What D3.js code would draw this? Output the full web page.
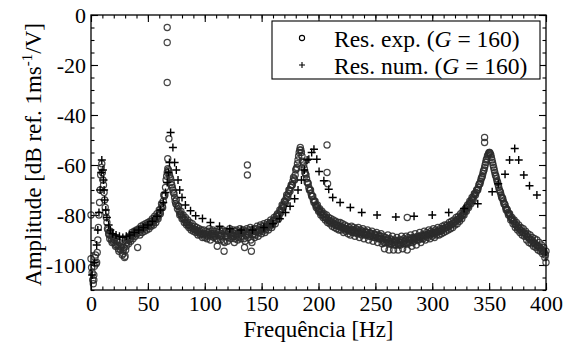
<!DOCTYPE html>
<html>
<head>
<meta charset="utf-8">
<script src="https://cdn.jsdelivr.net/npm/d3@7"></script>
<style>
  html, body { margin: 0; padding: 0; background: #fff; }
  svg { display: block; font-family: "Liberation Serif", "Times New Roman", serif; }
</style>
</head>
<body>
<svg id="chart" width="571" height="347"></svg>
<script>
// Measured frequency response, run A, sampled every 1 Hz from 0 Hz
const expAmp = [
  -97.5, -103, -107.5, -100.5, -96, -99, -90, -80, -70, -61,
  -63, -68, -74, -79, -83, -86, -88, -86.5, -90, -88.5,
  -91, -89, -92, -90, -93.5, -91, -94, -92, -95.5, -93,
  -96.5, -92.5, -90, -91.5, -88.5, -90.5, -87, -89.5, -86.5, -88.5,
  -86, -93, -85.5, -88, -84.5, -87, -84, -86.5, -83.5, -86,
  -83, -85.5, -82.5, -84.5, -81.5, -84, -80.5, -83, -79.5, -81.5,
  -78, -79.5, -75.5, -77, -72, -72, -66, -63, -62, -64,
  -65.5, -68, -70, -71.5, -74.5, -74, -77.5, -76.5, -80, -78.5,
  -81.5, -80, -83, -81, -84, -82, -85, -83, -86, -83.5,
  -86.5, -84.5, -87, -85, -88, -85.5, -88, -86, -89, -86,
  -89, -86.5, -89.5, -87, -85.5, -90, -87.5, -86, -89, -88,
  -86.5, -92.5, -88, -86, -90, -87.5, -86, -94.5, -88.5, -86.5,
  -90.5, -87, -85.5, -89.5, -88, -86, -91, -87.5, -86, -90,
  -88.5, -85.5, -89.5, -87, -86, -93, -88, -85.5, -89, -87,
  -85, -94.5, -88, -85.5, -89, -86.5, -84.5, -88.5, -86, -84,
  -87.5, -85.5, -83.5, -87, -84.5, -83, -86, -83.5, -82, -85,
  -82.5, -81, -83.5, -80.5, -79.5, -81.5, -78, -79, -76, -77,
  -74.5, -75, -72, -73, -70, -70.5, -68, -68, -65, -66,
  -62, -61, -58, -55, -53, -55, -58.5, -60, -63, -64,
  -67, -67.5, -70, -70, -72.5, -72.5, -75, -74.5, -77, -76,
  -78.5, -77.5, -80, -78.5, -81, -79.5, -82, -80, -83, -81,
  -83.5, -81.5, -84.5, -82, -85, -82.5, -85.5, -83, -86, -83,
  -86, -83.5, -87, -84, -86.5, -84.5, -87.5, -85, -88, -84.5,
  -87, -85, -88.5, -85.5, -87.5, -85, -89, -86, -88, -85.5,
  -89.5, -86.5, -88, -86, -90, -87, -88.5, -86.5, -90.5, -87.5,
  -89, -87, -91, -88, -89.5, -87.5, -91.5, -88.5, -93.5, -89,
  -91, -88, -94, -89.5, -91.5, -88.5, -94, -90, -92, -89,
  -94, -90, -92, -88.5, -93.5, -89.5, -91.5, -88.5, -94, -89,
  -91, -88, -92.5, -89, -90.5, -87.5, -92, -88.5, -90, -87,
  -91, -88, -89.5, -86.5, -90, -87, -89, -86, -89.5, -86.5,
  -88.5, -85.5, -89, -86, -88, -85, -88, -85.5, -87.5, -84.5,
  -87, -84, -86.5, -84, -86, -83, -85.5, -82.5, -85, -82,
  -84, -81, -83.5, -80.5, -82.5, -79.5, -81.5, -78.5, -80, -77.5,
  -78.5, -76, -77, -74.5, -75.5, -73, -74, -71.5, -72, -70,
  -70, -68, -67.5, -65.5, -64.5, -62.5, -61, -59, -57.5, -56,
  -55, -55.5, -57, -59, -61, -63, -64.5, -66.5, -68, -70,
  -71, -73, -73.5, -75.5, -76, -78, -78, -80, -79.5, -82,
  -81, -83.5, -82, -85, -83, -86, -84, -87, -85, -88,
  -85.5, -88.5, -86.5, -90, -87.5, -91, -88, -91.5, -89, -92.5,
  -89.5, -93, -90, -94, -91, -94.5, -92, -95.5, -93, -97,
  -94.5
];
const expStartHz = 0;

// Measured frequency response, run B, sampled every 1 Hz from 0.5 Hz
const expAmpB = [
  -101, -106, -104, -97, -99.5, -95, -85, -75, -64, -59.5,
  -66, -71, -77, -81, -85.5, -87.5, -89.5, -88, -91, -89.5,
  -90, -92.5, -90.5, -92, -94.5, -92.5, -93, -96, -94, -97,
  -94, -91, -89.5, -90, -89.5, -88, -88.5, -87.5, -87.5, -86.5,
  -87.5, -86, -87, -85.5, -86, -85.5, -85, -84.5, -85, -84,
  -84.5, -83.5, -84, -82.5, -83, -82, -82, -81, -81, -80,
  -79, -77.5, -76.5, -74.5, -72.5, -69, -64.5, -61.5, -62.5, -65,
  -67, -69, -71, -73, -75.5, -76, -76.5, -78.5, -79.5, -80,
  -81, -81.5, -82, -83, -83, -84, -84, -85, -84.5, -85.5,
  -85.5, -86, -86, -86.5, -87, -86.5, -87.5, -87.5, -87.5, -88,
  -87.5, -88, -88.5, -86.5, -88, -88.5, -86.5, -87.5, -88.5, -87.5,
  -89.5, -90, -87, -88.5, -88.5, -86.5, -90.5, -91, -87.5, -88.5,
  -89, -86.5, -87.5, -88.5, -87, -88.5, -89.5, -86.5, -88, -89,
  -87, -87.5, -88.5, -86.5, -89.5, -90.5, -86.5, -87.5, -88, -86,
  -90, -91, -86.5, -87.5, -88, -85.5, -86.5, -87, -85, -86,
  -86.5, -84.5, -85.5, -86, -84, -84.5, -85, -83, -83.5, -84,
  -82, -82, -82, -80, -80.5, -80, -78.5, -77.5, -76.5, -76,
  -74.5, -73.5, -72.5, -71.5, -70, -69, -68, -66.5, -65.5, -64,
  -61.5, -59.5, -56.5, -54, -54, -56.5, -59, -61.5, -63.5, -65.5,
  -67, -69, -70, -71.5, -72.5, -74, -74.5, -76, -76.5, -77.5,
  -78, -79, -79, -80, -80, -81, -81, -81.5, -82, -82.5,
  -82.5, -83, -83, -83.5, -84, -84, -84, -84.5, -84.5, -84.5,
  -85, -85, -85.5, -85.5, -85.5, -86, -86, -86.5, -86, -86,
  -86, -87, -87, -86.5, -86, -87, -87.5, -87, -86.5, -87.5,
  -88, -87, -87, -88, -88.5, -87.5, -87.5, -88.5, -89, -88,
  -88, -89, -89.5, -88.5, -88.5, -89.5, -90, -91, -91, -90,
  -89.5, -91, -91.5, -90.5, -90, -91, -92, -91, -90.5, -91.5,
  -92, -91, -90, -91, -91.5, -90.5, -90, -91, -91.5, -90,
  -89.5, -90, -91, -89.5, -89, -89.5, -90, -89, -88.5, -89,
  -89.5, -88.5, -88, -88, -88.5, -88, -87.5, -87.5, -88, -87.5,
  -87, -87, -87.5, -87, -86.5, -86.5, -86.5, -86.5, -86, -85.5,
  -85.5, -85, -85, -85, -84.5, -84, -84, -83.5, -83.5, -83,
  -82.5, -82, -82, -81.5, -81, -80.5, -80, -79.5, -78.5, -78,
  -77, -76.5, -75.5, -75, -74, -73.5, -72.5, -71.5, -71, -70,
  -69, -67.5, -66.5, -65, -63.5, -62, -60, -58, -56.5, -55.5,
  -55, -56, -58, -60, -62, -64, -65.5, -67, -69, -70.5,
  -72, -73, -74.5, -75.5, -77, -77.5, -79, -79.5, -80.5, -81.5,
  -82, -82.5, -83.5, -84, -84.5, -85, -85.5, -86, -86.5, -87,
  -87, -87.5, -88, -88.5, -89, -89.5, -90, -90, -91, -91,
  -91.5, -92, -92.5, -92.5, -93, -93.5, -94, -94.5, -95, -96
];
const expStartHzB = 0.5;
const expStepHz = 1;

// Isolated measured points away from the main trace
const expExtraFreq = [0, 2.5, 67, 67, 67, 68.5, 67.5, 137.5, 137.5, 207.5, 207.5, 208, 278, 346, 346, 400];
const expExtraAmp  = [-80, -106, -5, -11, -27, -49.5, -57.5, -60, -64, -52, -63, -67.5, -81, -49, -51, -99];

// Numerical model response
const numFreq = [
  1, 3, 5, 6, 7, 8, 9, 9.5, 10.5, 11, 11.5, 12, 13, 14, 15.5, 17, 19, 22, 25, 28,
  31, 34, 38, 42, 46, 50, 54, 58, 61, 63.5, 65.5, 67, 68, 69, 70, 72, 73.5, 75, 76.5, 78,
  80, 83, 87.5, 92, 98, 105, 113, 122, 132, 142, 152, 160, 166, 171, 175, 179, 182, 185, 187.5, 190,
  191.5, 194, 196, 198.5, 200.5, 204.7, 209, 212.5, 219, 228, 238, 251.5, 268, 284, 300, 314.5, 328, 340, 352.7, 358,
  364, 368, 372.5, 376, 380.5, 385.5, 392
];
const numAmp = [
  -104, -99, -92, -86, -79, -70, -63, -58, -62, -66, -70, -74, -78, -81, -84, -86, -87.5, -88, -88.5, -89,
  -88.5, -88, -87, -86, -85, -84, -82.5, -80.5, -78, -75, -71, -67, -63, -59, -47, -53, -59, -62, -66, -70,
  -73, -76, -78.3, -80.3, -81.4, -83, -84.5, -85.5, -86, -86, -85, -83.5, -81.5, -79, -76.5, -73.5, -70, -66, -62, -58,
  -57.7, -55, -53.7, -57.7, -62.6, -66.3, -69.7, -73, -75, -77, -79, -80, -80.8, -80.5, -80, -79, -77.4, -75.5, -70.7, -67.5,
  -63.7, -58, -53.4, -58, -64, -68.3, -72
];

// Axis ticks
const xTicks = [0, 50, 100, 150, 200, 250, 300, 350, 400];
const yTicks = [0, -20, -40, -60, -80, -100];
const xMinorTicks = d3.range(0, 401, 10);
const yMinorTicks = d3.range(-110, 1, 5);

const legendLabels = ["Res. exp.", "Res. num."];
const legendGain = "160";

const svg = d3.select("#chart");
const serif = "Liberation Serif, Times New Roman, serif";
const m = { left: 91, right: 546, top: 15, bottom: 290 };

const x = d3.scaleLinear().domain([0, 400]).range([m.left, m.right]);
const y = d3.scaleLinear().domain([-110, 0]).range([m.bottom, m.top]);

const fmt = d => String(d).replace("\u2212", "-");

// ---- axes (ticks pointing inward on all four sides)
function styleAxis(g) {
  g.attr("font-family", serif);
  g.selectAll(".domain").remove();
  g.selectAll("line").attr("stroke", "#000").attr("stroke-width", 1.1);
  g.selectAll("text").attr("fill", "#000").attr("font-size", 22).attr("font-family", serif);
}

svg.append("g").attr("transform", `translate(0,${m.bottom})`)
  .call(d3.axisBottom(x).tickValues(xMinorTicks).tickSize(-3.5).tickFormat(""))
  .call(styleAxis);
svg.append("g").attr("transform", `translate(0,${m.bottom})`)
  .call(d3.axisBottom(x).tickValues(xTicks).tickSize(-7).tickPadding(5).tickFormat(fmt))
  .call(styleAxis);
svg.append("g").attr("transform", `translate(0,${m.top})`)
  .call(d3.axisTop(x).tickValues(xMinorTicks).tickSize(-3.5).tickFormat(""))
  .call(styleAxis);
svg.append("g").attr("transform", `translate(0,${m.top})`)
  .call(d3.axisTop(x).tickValues(xTicks).tickSize(-7).tickFormat(""))
  .call(styleAxis);

svg.append("g").attr("transform", `translate(${m.left},0)`)
  .call(d3.axisLeft(y).tickValues(yMinorTicks).tickSize(-3.5).tickFormat(""))
  .call(styleAxis);
svg.append("g").attr("transform", `translate(${m.left},0)`)
  .call(d3.axisLeft(y).tickValues(yTicks).tickSize(-7).tickPadding(5).tickFormat(fmt))
  .call(styleAxis);
svg.append("g").attr("transform", `translate(${m.right},0)`)
  .call(d3.axisRight(y).tickValues(yMinorTicks).tickSize(-3.5).tickFormat(""))
  .call(styleAxis);
svg.append("g").attr("transform", `translate(${m.right},0)`)
  .call(d3.axisRight(y).tickValues(yTicks).tickSize(-7).tickFormat(""))
  .call(styleAxis);

// ---- data
const expPoints = expAmp.map((v, i) => ({ f: expStartHz + i * expStepHz, a: v }))
  .concat(expAmpB.map((v, i) => ({ f: expStartHzB + i * expStepHz, a: v })))
  .concat(expExtraFreq.map((f, i) => ({ f, a: expExtraAmp[i] })));
const numPoints = numFreq.map((f, i) => ({ f, a: numAmp[i] }));

const plot = svg.append("g");

plot.selectAll("circle.exp").data(expPoints).join("circle")
  .attr("class", "exp")
  .attr("cx", d => x(d.f)).attr("cy", d => y(d.a)).attr("r", 3.1)
  .attr("fill", "none").attr("stroke", "#2b2b2b").attr("stroke-width", 1.2)
  .attr("stroke-opacity", 0.88);

const plus = "M-4,0H4M0,-4V4";
plot.selectAll("path.num").data(numPoints).join("path")
  .attr("class", "num")
  .attr("transform", d => `translate(${x(d.f)},${y(d.a)})`)
  .attr("d", plus).attr("stroke", "#000").attr("stroke-width", 1.4).attr("fill", "none");

// ---- frame
svg.append("rect")
  .attr("x", m.left).attr("y", m.top)
  .attr("width", m.right - m.left).attr("height", m.bottom - m.top)
  .attr("fill", "none").attr("stroke", "#000").attr("stroke-width", 1.3);

// ---- legend
const lg = svg.append("g");
lg.append("rect").attr("x", 272).attr("y", 21).attr("width", 268).attr("height", 58)
  .attr("fill", "#fff").attr("stroke", "#000").attr("stroke-width", 1.1);
lg.append("circle").attr("cx", 302).attr("cy", 38).attr("r", 2.6)
  .attr("fill", "none").attr("stroke", "#000").attr("stroke-width", 1.1);
lg.append("path").attr("transform", "translate(302,65)").attr("d", "M-3,0H3M0,-3V3")
  .attr("stroke", "#000").attr("stroke-width", 1.1);

legendLabels.forEach((lab, i) => {
  const t = lg.append("text").attr("x", 334).attr("y", 46.5 + i * 27)
    .attr("font-size", 23.5).attr("fill", "#000").attr("font-family", serif);
  t.append("tspan").text(lab + " (");
  t.append("tspan").attr("font-style", "italic").text("G");
  t.append("tspan").text(" = " + legendGain + ")");
});

// ---- axis titles
svg.append("text")
  .attr("x", (m.left + m.right) / 2).attr("y", 337)
  .attr("text-anchor", "middle").attr("font-size", 23).attr("fill", "#000")
  .attr("font-family", serif)
  .text("Frequência [Hz]");

const yt = svg.append("text")
  .attr("transform", `translate(41,${(m.top + m.bottom) / 2 + 2}) rotate(-90)`)
  .attr("text-anchor", "middle").attr("font-size", 23).attr("fill", "#000")
  .attr("font-family", serif);
yt.append("tspan").text("Amplitude [dB ref. 1ms");
yt.append("tspan").attr("font-size", 15).attr("dy", -9).text("-1");
yt.append("tspan").attr("dy", 9).text("/V]");
</script>
</body>
</html>
